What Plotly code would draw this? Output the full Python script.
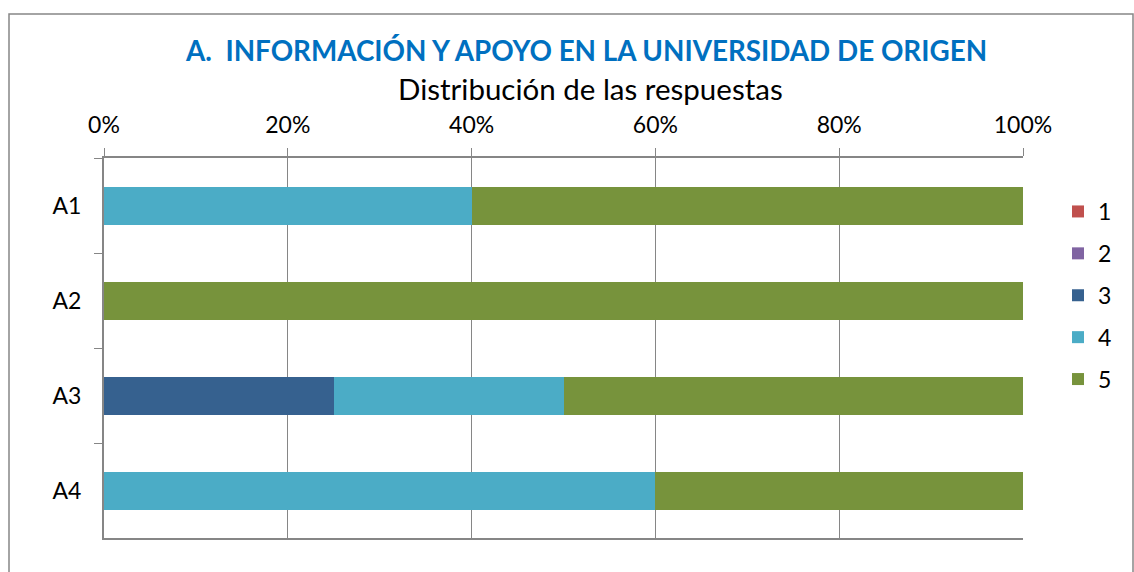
import plotly.graph_objects as go

categories = ["A1", "A2", "A3", "A4"]
series_names = ["1", "2", "3", "4", "5"]
values = {
    "1": [0, 0, 0, 0],
    "2": [0, 0, 0, 0],
    "3": [0, 0, 25, 0],
    "4": [40, 0, 25, 60],
    "5": [60, 100, 50, 40],
}
colors = {"1": "#C0504D", "2": "#8064A2", "3": "#36618F", "4": "#4BACC6", "5": "#77933C"}
x_ticks = [0, 20, 40, 60, 80, 100]
x_tick_labels = ["0%", "20%", "40%", "60%", "80%", "100%"]
title_text = "A.  INFORMACIÓN Y APOYO EN LA UNIVERSIDAD DE ORIGEN"
subtitle_text = "Distribución de las respuestas"

FONT = "Lato"
W, H = 1134, 572
L, R, T, B = 104, 111, 158, 34
pw, ph = W - L - R, H - T - B

def px_x(p):
    return (p - L) / pw

def px_y(p):
    return (H - B - p) / ph

fig = go.Figure()
for i, s in enumerate(series_names):
    fig.add_trace(go.Bar(
        y=categories, x=values[s], name=s, orientation="h",
        marker=dict(color=colors[s], line=dict(width=0)),
        legendgroup=s,
    ))

fig.update_layout(
    width=W, height=H,
    margin=dict(l=L, r=R, t=T, b=B),
    barmode="stack", bargap=0.6,
    plot_bgcolor="white", paper_bgcolor="white",
    font=dict(family=FONT, color="black", size=22),
    showlegend=True,
    legend=dict(x=px_x(1058), y=px_y(190), xanchor="left", yanchor="top",
                traceorder="grouped", tracegroupgap=9,
                font=dict(size=23, family=FONT), bgcolor="rgba(0,0,0,0)"),
    xaxis=dict(side="top", range=[0, 100], tickvals=x_ticks, ticktext=x_tick_labels,
               showgrid=True, gridcolor="#868686", gridwidth=1,
               showline=True, linecolor="#868686", linewidth=2, mirror=True,
               ticks="outside", ticklen=8, tickcolor="#868686", tickwidth=1,
               tickfont=dict(size=23, family=FONT), zeroline=False,
               ticklabelstandoff=6),
    yaxis=dict(autorange="reversed", showline=True, linecolor="#868686", linewidth=2,
               ticks="outside", ticklen=8, tickcolor="#868686", tickwidth=1,
               tickson="boundaries", showgrid=False,
               tickfont=dict(size=23, family=FONT), ticklabelstandoff=16),
    shapes=[dict(type="rect", xref="paper", yref="paper",
                 x0=px_x(9), x1=px_x(1133), y0=px_y(14), y1=px_y(580),
                 line=dict(color="#868686", width=1.5), fillcolor="rgba(0,0,0,0)",
                 layer="below")],
    annotations=[
        dict(text="<b>" + title_text + "</b>", x=px_x(586), y=px_y(50), xref="paper", yref="paper",
             xanchor="center", yanchor="middle", showarrow=False,
             font=dict(size=27.8, color="#0070C0", family=FONT)),
        dict(text=subtitle_text, x=px_x(590), y=px_y(88), xref="paper", yref="paper",
             xanchor="center", yanchor="middle", showarrow=False,
             font=dict(size=29.5, color="black", family=FONT)),
    ],
)

fig.write_html("out.html")
